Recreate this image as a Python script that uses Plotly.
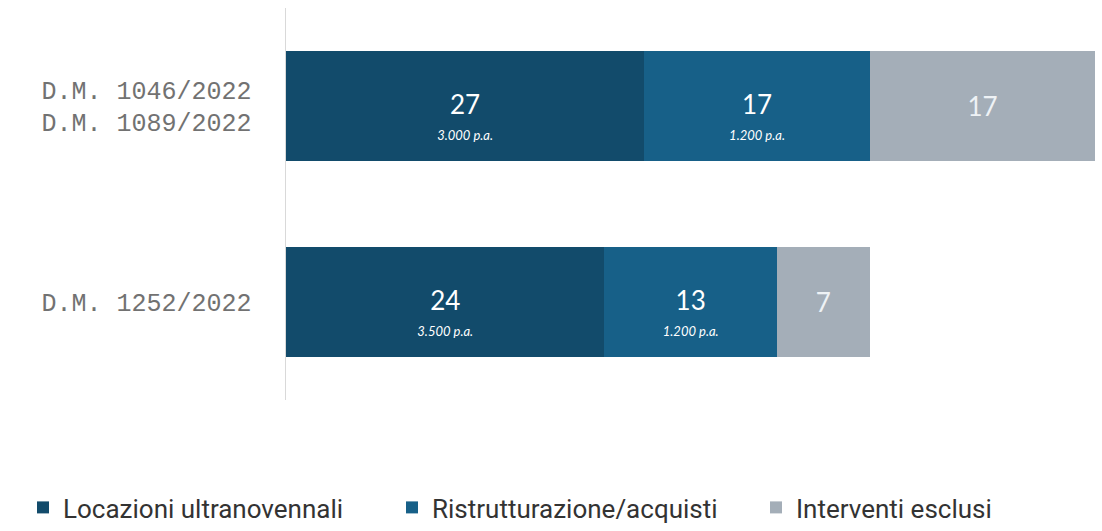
import plotly.graph_objects as go

categories = ["D.M. 1046/2022<br>D.M. 1089/2022", "D.M. 1252/2022"]
locazioni = [27, 24]
locazioni_pa = ["3.000 p.a.", "3.500 p.a."]
ristrutturazione = [17, 13]
ristrutturazione_pa = ["1.200 p.a.", "1.200 p.a."]
esclusi = [17, 7]

series_names = ["Locazioni ultranovennali", "Ristrutturazione/acquisti", "Interventi esclusi"]
colors = ["#124b6b", "#176088", "#a4aeb8"]


def label(v, sub=None):
    s = f"<span style='font-size:26px'>{v}</span>"
    if sub:
        s = "<span style='font-size:18px'>&nbsp;</span><br>" + s
        s += f"<br><i><span style='font-size:13px'>{sub}</span></i>"
    return s


legend_ids = ["legend", "legend2", "legend3"]
fig = go.Figure()
for vals, subs, name, col, tcol, lg in [
    (locazioni, locazioni_pa, series_names[0], colors[0], "white", legend_ids[0]),
    (ristrutturazione, ristrutturazione_pa, series_names[1], colors[1], "white", legend_ids[1]),
    (esclusi, None, series_names[2], colors[2], "#eef2f5", legend_ids[2]),
]:
    texts = [label(v, s) for v, s in zip(vals, subs)] if subs else [label(v) for v in vals]
    fig.add_trace(go.Bar(
        y=categories, x=vals, orientation="h", name=name, legend=lg,
        marker=dict(color=col, line=dict(width=0)),
        text=texts,
        textposition="inside", insidetextanchor="middle", constraintext="none",
        textfont=dict(family="Lato", color=tcol, size=20), hoverinfo="skip",
    ))

legend_style = dict(
    orientation="h", xref="container", yref="container",
    y=-0.013, xanchor="left", yanchor="bottom",
    font=dict(family="Roboto", size=26, color="#333333"),
    itemclick=False, itemdoubleclick=False, bgcolor="rgba(0,0,0,0)",
)

fig.update_layout(
    barmode="stack",
    bargap=0.44,
    width=1102, height=531,
    margin=dict(l=286, r=0, t=8, b=131, autoexpand=False),
    paper_bgcolor="white", plot_bgcolor="white",
    showlegend=True,
    legend=dict(legend_style, x=23 / 1102),
    legend2=dict(legend_style, x=392 / 1102),
    legend3=dict(legend_style, x=756 / 1102),
    uniformtext=dict(mode=False),
)
fig.update_xaxes(range=[0, 61.5], visible=False, fixedrange=True)
fig.update_yaxes(
    categoryorder="array", categoryarray=categories, autorange="reversed",
    showline=True, linecolor="#d9d9d9", linewidth=1.5,
    ticks="", showgrid=False, zeroline=False, ticklabelstandoff=28,
    tickfont=dict(family="Liberation Mono", size=25, color="#727272"),
    fixedrange=True, automargin=False,
)

fig.write_html(
    "out.html",
    config={"displayModeBar": False, "staticPlot": True},
    post_script="document.body.style.margin='0';document.body.style.overflow='hidden';",
)
